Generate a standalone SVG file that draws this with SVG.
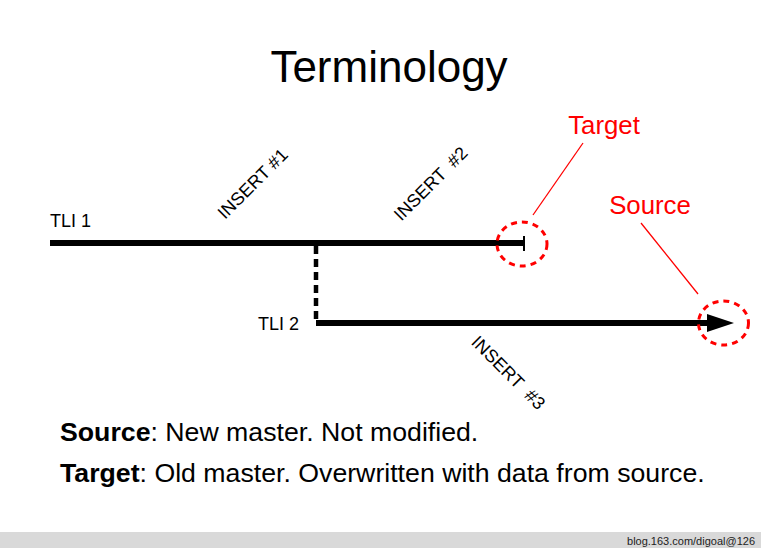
<svg xmlns="http://www.w3.org/2000/svg" width="761" height="548" viewBox="0 0 761 548">
<style>
text{font-family:"Liberation Sans",Arial,sans-serif}
.lbl{font-size:18px;fill:#000}
.red{font-size:25.8px;fill:#ff0000}
.ring{fill:none;stroke:#ff0000;stroke-width:3;stroke-dasharray:6 5}
.lead{stroke:#ff0000;stroke-width:1.3}
.tl{stroke:#000;stroke-width:6;fill:none}
.note{font-size:26.7px;fill:#000}
</style>
<rect width="761" height="548" fill="#fff"/>
<text x="389" y="82" text-anchor="middle" font-size="44">Terminology</text>
<g id="connectors">
<line class="tl" x1="50" y1="243" x2="524" y2="243"/>
<line x1="524" y1="236" x2="524" y2="251" stroke="#000" stroke-width="2"/>
<line x1="316" y1="246" x2="316" y2="322" stroke="#000" stroke-width="4.5" stroke-dasharray="8 5"/>
<line class="tl" x1="316" y1="323" x2="710" y2="323"/>
<polygon points="707,314 734,323 707,332" fill="#000"/>
<line class="lead" x1="583" y1="143" x2="533" y2="215"/>
<line class="lead" x1="641" y1="223" x2="698" y2="294"/>
</g>
<g id="tli1"><text class="lbl" x="50" y="227">TLI 1</text></g>
<g id="tli2"><text class="lbl" x="258" y="330">TLI 2</text></g>
<g id="insert1"><text class="lbl" text-anchor="middle" transform="translate(257,188) rotate(-45)">INSERT #1</text></g>
<g id="insert2"><text class="lbl" text-anchor="middle" xml:space="preserve" transform="translate(435,188) rotate(-45)">INSERT  #2</text></g>
<g id="insert3"><text class="lbl" text-anchor="middle" xml:space="preserve" transform="translate(504,377) rotate(45)">INSERT  #3</text></g>
<g id="target"><ellipse class="ring" cx="522" cy="244" rx="25" ry="22"/><text class="red" x="604" y="134" text-anchor="middle">Target</text></g>
<g id="source"><ellipse class="ring" cx="723.5" cy="323" rx="25" ry="22"/><text class="red" x="650" y="214" text-anchor="middle">Source</text></g>
<g id="notes">
<text class="note" x="60" y="441"><tspan font-weight="bold">Source</tspan>: New master. Not modified.</text>
<text class="note" x="60" y="482"><tspan font-weight="bold">Target</tspan>: Old master. Overwritten with data from source.</text>
</g>
<rect x="0" y="532" width="761" height="16" fill="#d9d9d9"/>
<text x="755" y="545" text-anchor="end" font-size="11" fill="#222">blog.163.com/digoal@126</text>
</svg>
